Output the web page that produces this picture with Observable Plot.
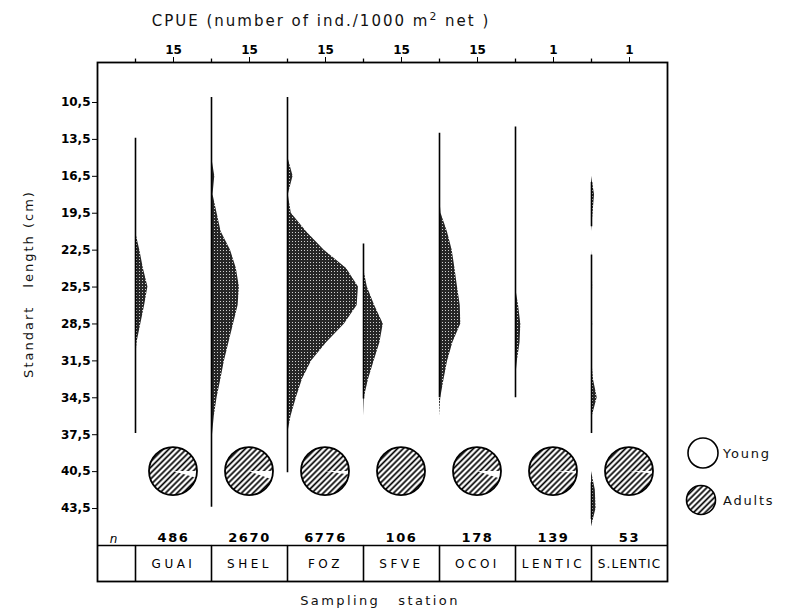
<!DOCTYPE html>
<html>
<head>
<meta charset="utf-8">
<script src="https://cdn.jsdelivr.net/npm/d3@7"></script>
<script src="https://cdn.jsdelivr.net/npm/@observablehq/plot@0.6"></script>
<style>
  body { margin: 0; background: #fff; }
  #wrap { position: relative; width: 786px; height: 611px; font-family: "DejaVu Sans", sans-serif; color: #111; }
  .lbl { position: absolute; white-space: nowrap; line-height: 1; }
  .gap { display: inline-block; }
  sup { font-size: 0.72em; line-height: 0; }
</style>
</head>
<body>
<div id="wrap"></div>
<script>
// Sampling stations along the river, left to right
const stations = ["GUAI", "SHEL", "FOZ", "SFVE", "OCOI", "LENTIC", "S.LENTIC"];
const sampleSize = [486, 2670, 6776, 106, 178, 139, 53];
// CPUE value represented by half a column width for each station
const cpueUnit = [15, 15, 15, 15, 15, 1, 1];
const cpueLabels = ["15", "15", "15", "15", "15", "1", "1"];
// Share of young individuals in each catch (pie charts)
const youngShare = [0.045, 0.055, 0.022, 0, 0.05, 0.012, 0.015];

// Standard length classes (cm) for the kite profiles
const lengths = [9, 10.5, 12, 13.5, 15, 16.5, 18, 19.5, 21, 22.5, 24, 25.5, 27, 28.5, 30, 31.5, 33, 34.5, 36, 37.5, 39, 40.5, 42, 43.5, 45];
const lengthTicks = [10.5, 13.5, 16.5, 19.5, 22.5, 25.5, 28.5, 31.5, 34.5, 37.5, 40.5, 43.5];

// CPUE (ind./1000 m² net) per length class
const cpueGUAI   = [0, 0, 0, 0, 0, 0, 0, 0, 0, 1.7, 3.1, 4.9, 3.6, 2.1, 0.6, 0, 0, 0, 0, 0, 0, 0, 0, 0, 0];
const cpueSHEL   = [0, 0, 0, 0, 0.1, 1.3, 0.6, 2.2, 3.8, 7.5, 9.8, 11.0, 10.5, 8.7, 6.9, 5.1, 3.7, 2.2, 1.1, 0.4, 0, 0, 0, 0, 0];
const cpueFOZ    = [0, 0, 0, 0, 0.2, 2.2, 0.3, 1.5, 7.5, 14.5, 23.3, 28.0, 27.5, 22.5, 15.5, 9.5, 5.9, 3.5, 1.4, 0, 0, 0, 0, 0, 0];
const cpueSFVE   = [0, 0, 0, 0, 0, 0, 0, 0, 0, 0, 0, 1.5, 4.4, 7.8, 6.5, 4.2, 2.0, 0.3, 0, 0, 0, 0, 0, 0, 0];
const cpueOCOI   = [0, 0, 0, 0, 0, 0, 0, 0.6, 3.1, 5.0, 6.1, 7.1, 8.2, 8.4, 5.3, 3.2, 1.8, 0.5, 0, 0, 0, 0, 0, 0, 0];
const cpueLENTIC = [0, 0, 0, 0, 0, 0, 0, 0, 0, 0, 0, 0, 0.08, 0.14, 0.12, 0.05, 0, 0, 0, 0, 0, 0, 0, 0, 0];
const cpueSLENTIC = [0, 0, 0, 0, 0, 0, 0.08, 0.04, 0, 0, 0.02, 0.03, 0.01, 0.03, 0.01, 0.01, 0.05, 0.15, 0.02, 0, 0, 0, 0.1, 0.12, 0];
const cpueByStation = [cpueGUAI, cpueSHEL, cpueFOZ, cpueSFVE, cpueOCOI, cpueLENTIC, cpueSLENTIC];

// Length ranges in which each station recorded fish (vertical axis lines)
const segStation = [0, 1, 2, 3, 4, 5, 6, 6, 6];
const segFrom    = [13.4, 10.1, 10.1, 22.0, 13.0, 12.5, 17.0, 22.9, 41.4];
const segTo      = [37.4, 43.4, 40.6, 34.6, 34.5, 34.5, 20.6, 37.4, 44.4];

// Layout of the length axis and of the station table beneath it
const yTop = 7.25, yBottom = 49.43;
const pieLevel = 40.5, nRow = 45.85, tableTop = 46.5, nameRow = 48.05;
const pieRadius = 24;

const idx = stations.map((_, i) => i);
const kiteRows = stations.flatMap((s, i) => lengths.map((L, k) => ({
  station: s, base: i, length: L,
  edge: i + cpueByStation[i][k] / (2 * cpueUnit[i])
})));
const segments = segStation.map((s, k) => ({x: s, from: segFrom[k], to: segTo[k]}));

// Pie charts (young vs adults) drawn with d3.arc at each column centre
function pies(index, scales) {
  const sx = scales.x, sy = scales.y;
  const g = d3.create("svg:g");
  const defs = g.append("defs");
  const hatch = defs.append("pattern").attr("id", "hatch").attr("patternUnits", "userSpaceOnUse")
    .attr("width", 4.1).attr("height", 4.1).attr("patternTransform", "rotate(-45)");
  hatch.append("rect").attr("width", 4.1).attr("height", 4.1).attr("fill", "white");
  hatch.append("line").attr("x1", 0).attr("x2", 4.1).attr("y1", 2.05).attr("y2", 2.05)
    .attr("stroke", "#000").attr("stroke-width", 1.7);
  const stip = defs.append("pattern").attr("id", "stipple").attr("patternUnits", "userSpaceOnUse")
    .attr("width", 3).attr("height", 3);
  stip.append("rect").attr("width", 3).attr("height", 3).attr("fill", "#262626");
  stip.append("rect").attr("x", 1).attr("y", 1).attr("width", 1).attr("height", 1).attr("fill", "#d0d0d0");
  const arc = d3.arc();
  stations.forEach((s, i) => {
    const pg = g.append("g").attr("transform", `translate(${sx(i + 0.5)},${sy(pieLevel)})`);
    pg.append("circle").attr("r", pieRadius).attr("fill", "url(#hatch)");
    if (youngShare[i] > 0) {
      pg.append("path").attr("fill", "white").attr("d", arc({
        innerRadius: 0, outerRadius: pieRadius,
        startAngle: Math.PI / 2, endAngle: Math.PI / 2 + youngShare[i] * 2 * Math.PI
      }));
    }
    pg.append("circle").attr("r", pieRadius).attr("fill", "none").attr("stroke", "#000").attr("stroke-width", 1.8);
  });
  return g.node();
}

const chart = Plot.plot({
  width: 786, height: 611,
  marginLeft: 97, marginRight: 119, marginTop: 62, marginBottom: 30,
  style: {fontFamily: "DejaVu Sans, sans-serif", fontSize: "12px", color: "#000", background: "white", overflow: "visible"},
  x: {
    domain: [-0.5, 7], axis: "top", label: null,
    ticks: idx.map(i => i + 0.5), tickFormat: d => cpueLabels[Math.floor(d)],
    tickSize: 6, tickPadding: 3
  },
  y: {
    domain: [yTop, yBottom], reverse: true, label: null,
    ticks: lengthTicks, tickFormat: d => d.toFixed(1).replace(".", ","),
    tickSize: 5, tickPadding: 2
  },
  marks: [
    Plot.areaX(kiteRows, {y: "length", x1: "base", x2: "edge", z: "station", fill: "url(#stipple)"}),
    Plot.ruleX(segments, {x: "x", y1: "from", y2: "to", stroke: "#000", strokeWidth: 1.6}),
    Plot.ruleX(idx, {x: d => d, y1: yTop, y2: yTop - 0.28, stroke: "#000", strokeWidth: 1.3}),
    Plot.ruleY([tableTop], {stroke: "#000", strokeWidth: 1.6}),
    Plot.ruleX(idx, {x: d => d, y1: tableTop, y2: yBottom, stroke: "#000", strokeWidth: 1.6}),
    Plot.text(["n"], {x: -0.29, y: nRow + 0.15, text: d => d, fontStyle: "italic", fontSize: 12}),
    Plot.text(idx, {x: i => i + 0.5, y: nRow, text: i => String(sampleSize[i]), fontSize: 13, fontWeight: "bold"}),
    Plot.text(idx, {x: i => i + 0.5, y: nameRow, text: i => stations[i], fontSize: 12}),
    pies,
    Plot.frame({stroke: "#000", strokeWidth: 1.8})
  ]
});

// Spaced lettering for the table texts
const sizeTexts = new Set(sampleSize.map(String));
d3.select(chart).selectAll("text").each(function () {
  const t = this.textContent;
  if (sizeTexts.has(t)) this.style.letterSpacing = "1.6px";
  else if (stations.includes(t)) this.style.letterSpacing = t.length >= 8 ? "1.2px" : "3.5px";
});
d3.select(chart).selectAll('g[aria-label="x-axis tick label"] text, g[aria-label="y-axis tick label"] text').style("font-weight", "bold");

const wrap = document.getElementById("wrap");
wrap.appendChild(chart);

function label(html, css) {
  const d = document.createElement("div");
  d.className = "lbl";
  d.innerHTML = html;
  Object.assign(d.style, css);
  wrap.appendChild(d);
  return d;
}
label("CPUE (number of ind./1000 m<sup>2</sup> net )", {left: "321px", top: "21px", fontSize: "15px", letterSpacing: "2px", transform: "translate(-50%,-50%)"});
label("Standart<span class='gap' style='width:18px'></span>length (cm)", {left: "28px", top: "284px", fontSize: "13px", letterSpacing: "2px", transform: "translate(-50%,-50%) rotate(-90deg)"});
label("Sampling<span class='gap' style='width:18px'></span>station", {left: "380px", top: "600px", fontSize: "13px", letterSpacing: "2.4px", transform: "translate(-50%,-50%)"});

// Legend: open circle for young, hatched circle for adults
const legendSvg = `
<svg width="90" height="80" style="position:absolute;left:686px;top:436px;overflow:visible">
  <defs>
    <pattern id="lhatch" patternUnits="userSpaceOnUse" width="4.1" height="4.1" patternTransform="rotate(-45)">
      <rect width="4.1" height="4.1" fill="white"/>
      <line x1="0" x2="4.1" y1="2.05" y2="2.05" stroke="#000" stroke-width="1.7"/>
    </pattern>
  </defs>
  <circle cx="17" cy="17" r="15" fill="white" stroke="#000" stroke-width="1.6"/>
  <circle cx="15" cy="64" r="14.5" fill="url(#lhatch)" stroke="#000" stroke-width="1.6"/>
</svg>`;
wrap.insertAdjacentHTML("beforeend", legendSvg);
label("Young", {left: "723px", top: "453px", fontSize: "13px", letterSpacing: "1.8px", transform: "translateY(-50%)"});
label("Adults", {left: "723px", top: "500px", fontSize: "13px", letterSpacing: "1.8px", transform: "translateY(-50%)"});
</script>
</body>
</html>
